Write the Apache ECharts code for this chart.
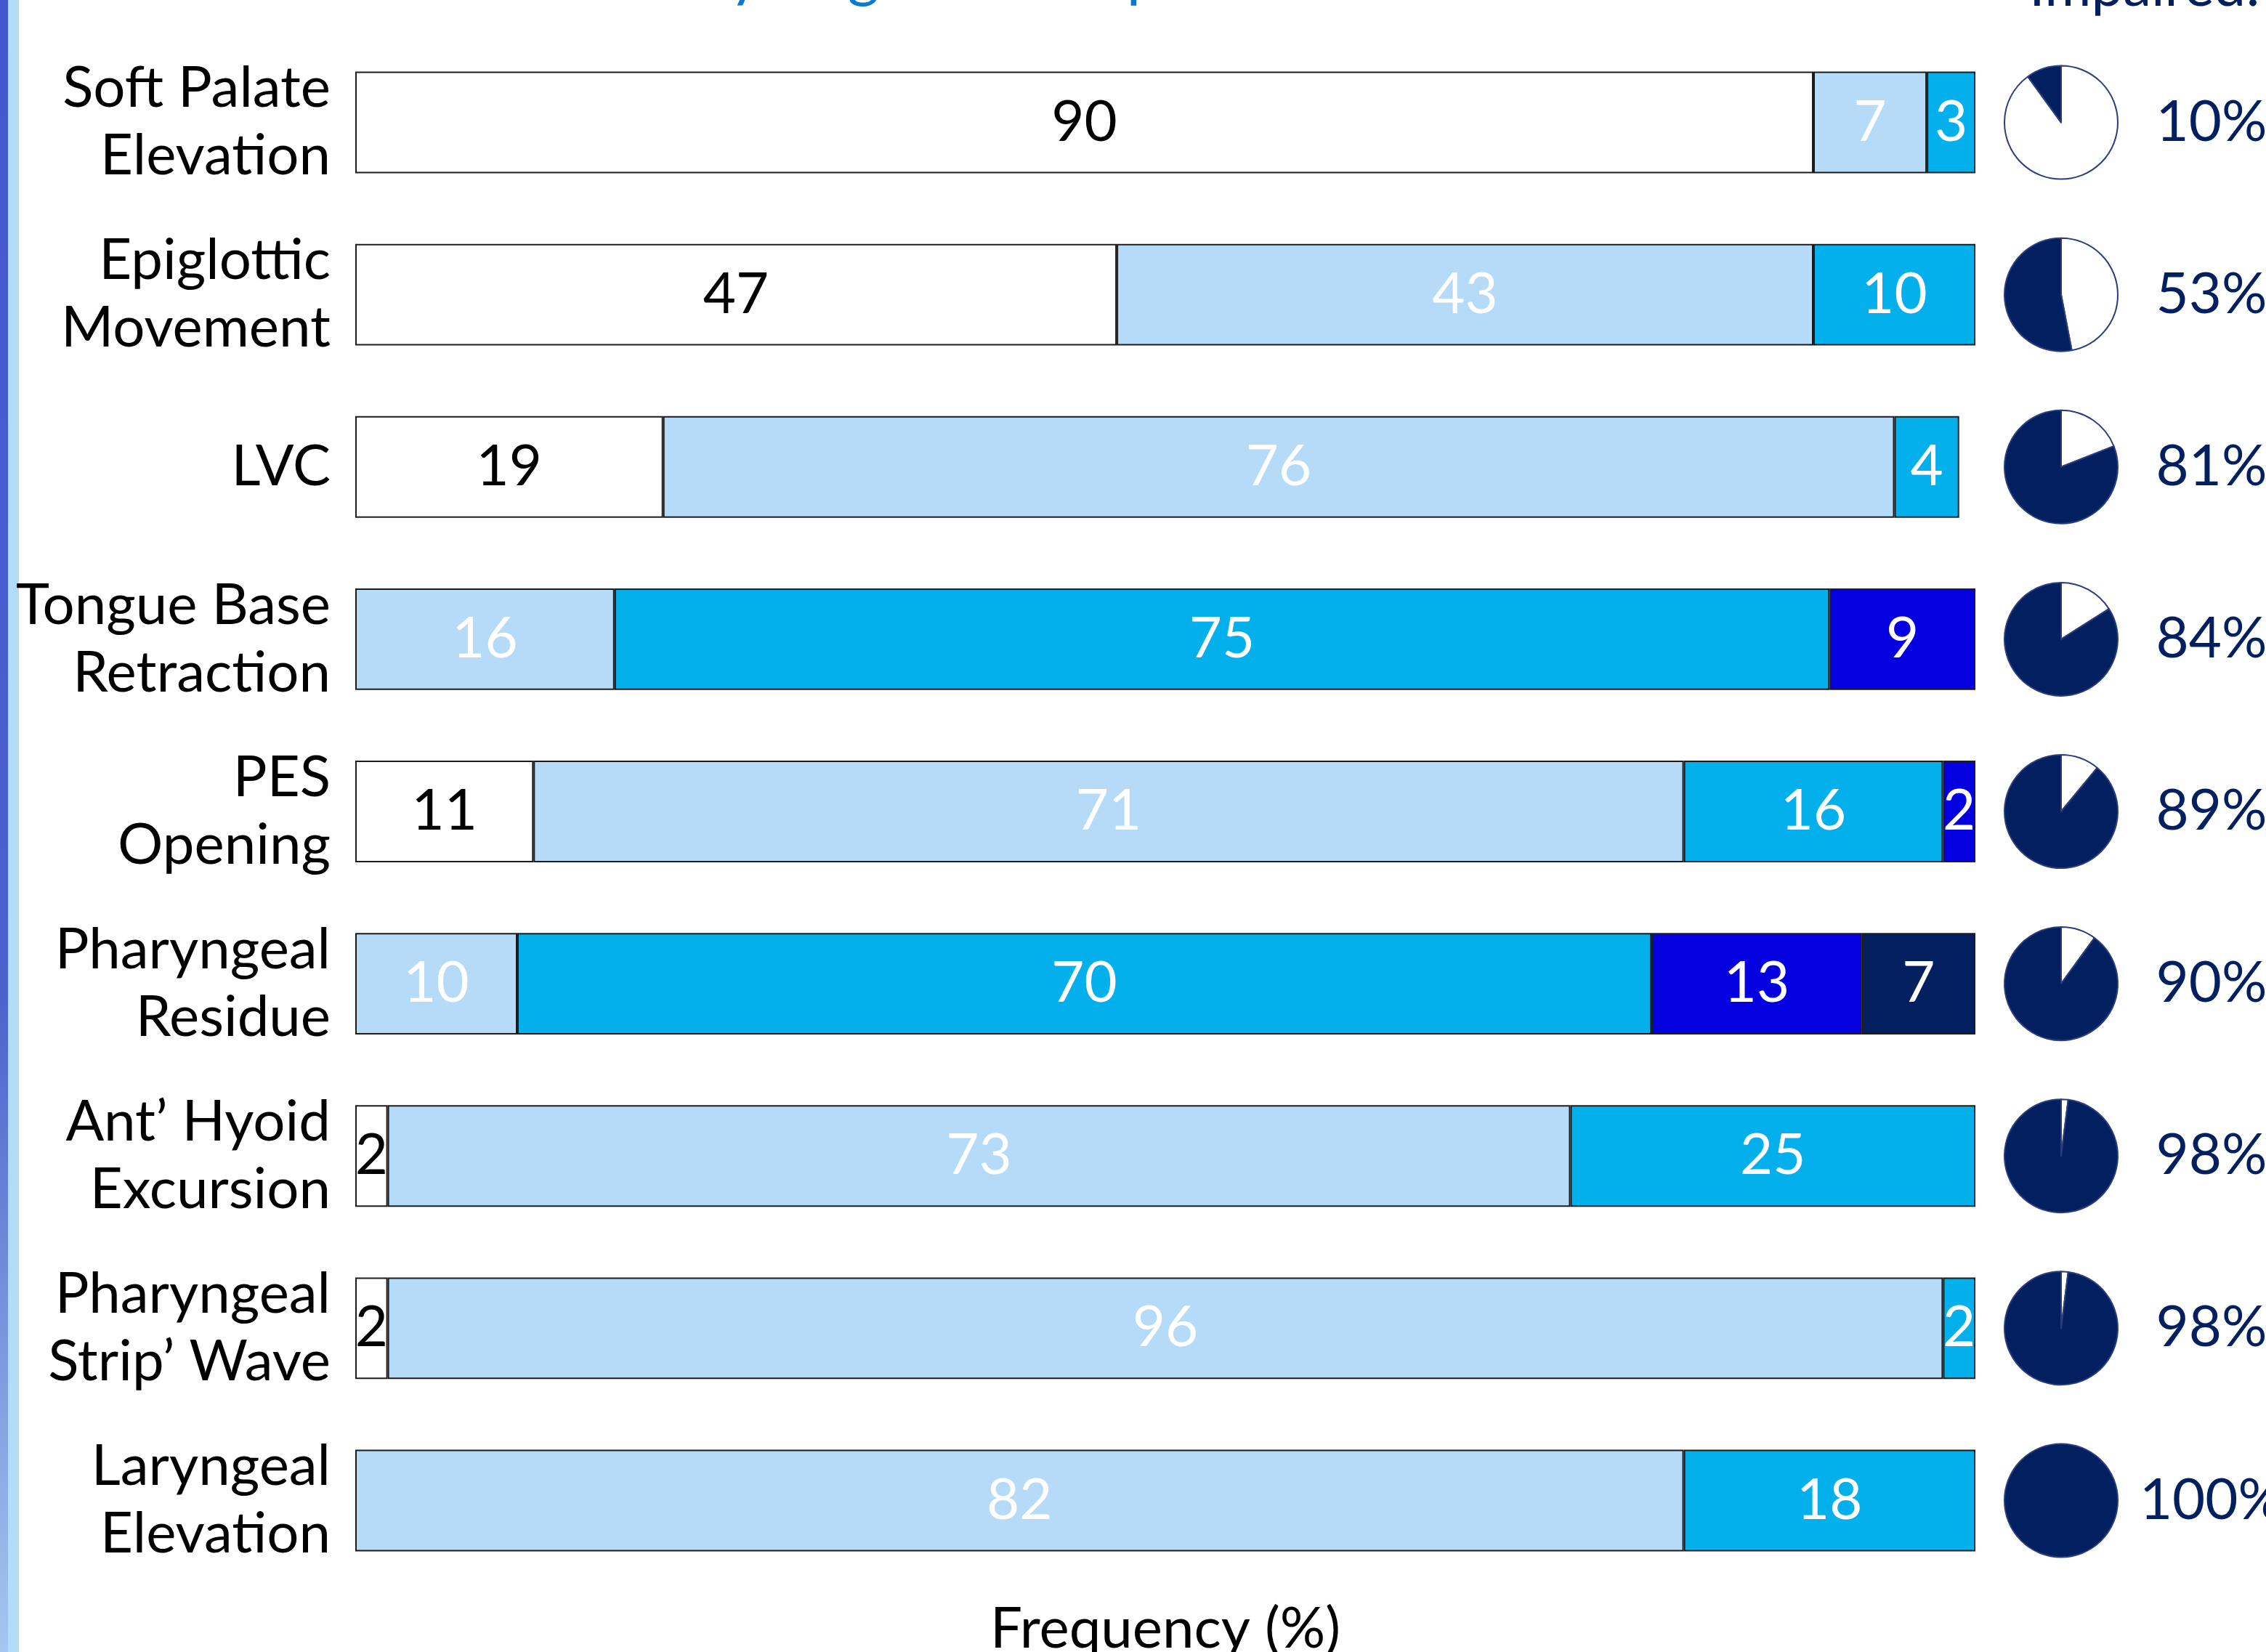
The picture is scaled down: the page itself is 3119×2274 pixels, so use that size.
<!DOCTYPE html>
<html>
<head>
<meta charset="utf-8">
<script src="https://cdn.jsdelivr.net/npm/echarts@6/dist/echarts.min.js"></script>
<style>
  html, body { margin: 0; padding: 0; background: #ffffff; }
  #chart { width: 3119px; height: 2274px; }
</style>
</head>
<body>
<div id="chart"></div>
<script>
// Swallowing components, one row each (top to bottom)
const categories = [
  'Soft Palate\nElevation',
  'Epiglottic\nMovement',
  'LVC',
  'Tongue Base\nRetraction',
  'PES\nOpening',
  'Pharyngeal\nResidue',
  'Ant\u2019 Hyoid\nExcursion',
  'Pharyngeal\nStrip\u2019 Wave',
  'Laryngeal\nElevation'
];

// Frequency (%) of each score, lightest to darkest
const score0 = [90, 47, 19, 0, 11, 0, 2, 2, 0];
const score1 = [7, 43, 76, 16, 71, 10, 73, 96, 82];
const score2 = [3, 10, 4, 75, 16, 70, 25, 2, 18];
const score3 = [0, 0, 0, 9, 2, 13, 0, 0, 0];
const score4 = [0, 0, 0, 0, 0, 7, 0, 0, 0];

// Share of patients impaired on each component (%)
const impaired = [10, 53, 81, 84, 89, 90, 98, 98, 100];

const xTicks = [0, 100];

const FONT = 'Lato';
const NAVY = '#021f5f';

const scoreSets = [
  { name: 'Score 0', data: score0, color: '#ffffff', text: '#000000' },
  { name: 'Score 1', data: score1, color: '#b5dbf9', text: '#ffffff' },
  { name: 'Score 2', data: score2, color: '#03b0ec', text: '#ffffff' },
  { name: 'Score 3', data: score3, color: '#0500e0', text: '#ffffff' },
  { name: 'Score 4', data: score4, color: '#021f5f', text: '#ffffff' }
];

const barSeries = scoreSets.map(s => ({
  name: s.name,
  type: 'bar',
  stack: 'total',
  barWidth: '59%',
  silent: true,
  data: s.data.map(v => (v === 0 ? '-' : v)),
  itemStyle: { color: s.color, borderColor: '#1c1c1c', borderWidth: 2 },
  label: {
    show: true,
    position: 'inside',
    color: s.text,
    fontFamily: FONT,
    fontSize: 78,
    formatter: p => String(p.value)
  }
}));

const chart = echarts.init(document.getElementById('chart'), null, { renderer: 'canvas' });

const option = {
  backgroundColor: '#ffffff',
  animation: false,
  grid: {
    left: 489, right: 400, top: 50, bottom: 90,
    containLabel: false,
    outerBoundsMode: 'none'
  },
  xAxis: {
    type: 'value',
    min: xTicks[0],
    max: xTicks[1],
    axisLine: { show: false },
    axisTick: { show: false },
    axisLabel: { show: false },
    splitLine: { show: false },
    name: 'Frequency (%)',
    nameLocation: 'middle',
    nameGap: 20,
    nameTextStyle: { color: '#000000', fontFamily: FONT, fontSize: 78 }
  },
  yAxis: [
    {
      type: 'category',
      data: categories,
      inverse: true,
      axisLine: { show: false },
      axisTick: { show: false },
      splitLine: { show: false },
      axisLabel: {
        color: '#000000',
        fontFamily: FONT,
        fontSize: 78,
        lineHeight: 93,
        align: 'right',
        margin: 34
      }
    },
    {
      type: 'category',
      data: impaired.map(v => v + '%'),
      inverse: true,
      position: 'right',
      axisLine: { show: false },
      axisTick: { show: false },
      splitLine: { show: false },
      axisLabel: {
        color: NAVY,
        fontFamily: FONT,
        fontSize: 78,
        align: 'center',
        margin: 325
      }
    }
  ],
  graphic: [
    // side accent strips
    {
      type: 'rect',
      shape: { x: 0, y: 0, width: 11, height: 2274 },
      style: {
        fill: new echarts.graphic.LinearGradient(0, 0, 0, 1, [
          { offset: 0, color: '#4258cf' },
          { offset: 0.6, color: '#4a62cc' },
          { offset: 1, color: '#a3c7ef' }
        ])
      },
      silent: true
    },
    {
      type: 'rect',
      shape: { x: 11, y: 0, width: 15, height: 2274 },
      style: { fill: '#b3dbfa' },
      silent: true
    },
    {
      type: 'text',
      left: 748,
      top: -76,
      style: {
        text: 'Severity of grade comparison',
        fill: '#0a7ad0',
        font: '84px ' + FONT
      },
      silent: true
    },
    {
      type: 'text',
      left: 2793,
      top: -56,
      style: {
        text: 'Impaired:',
        fill: NAVY,
        font: '78px ' + FONT
      },
      silent: true
    }
  ],
  series: barSeries
};

chart.setOption(option);

// One small pie per row showing the impaired share
const pieSeries = impaired.map((v, i) => {
  const pt = chart.convertToPixel({ gridIndex: 0 }, [0, i]);
  const slices = [];
  if (100 - v > 0) slices.push({ value: 100 - v, itemStyle: { color: '#ffffff' } });
  if (v > 0) slices.push({ value: v, itemStyle: { color: NAVY } });
  return {
    type: 'pie',
    silent: true,
    center: [2837, pt[1]],
    radius: 78,
    startAngle: 90,
    clockwise: true,
    label: { show: false },
    labelLine: { show: false },
    itemStyle: { borderColor: '#2a3d7c', borderWidth: 2 },
    data: slices
  };
});

chart.setOption({ series: barSeries.concat(pieSeries) });
</script>
</body>
</html>
